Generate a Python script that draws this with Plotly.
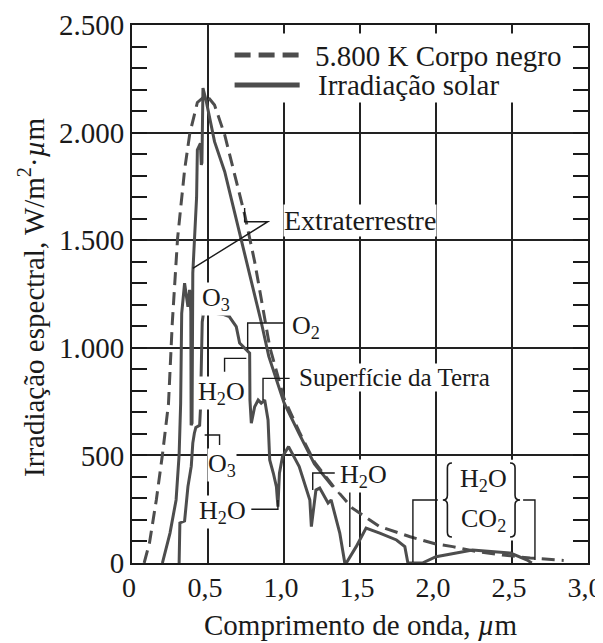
import plotly.graph_objects as go

# ---------------- data ----------------
# 5.800 K black body (dashed)
wl_bb = [0.08, 0.115, 0.16, 0.20, 0.24, 0.265, 0.30, 0.346, 0.38, 0.43, 0.489,
         0.543, 0.61, 0.686, 0.741, 0.807, 0.86, 0.906, 1.0, 1.1, 1.2, 1.32,
         1.45, 1.63, 1.83, 2.0, 2.11, 2.27, 2.44, 2.62, 2.84]
irr_bb = [0, 93, 293, 502, 740, 1115, 1510, 1826, 1995, 2140, 2175,
          2128, 1989, 1780, 1620, 1400, 1185, 1005, 765, 610, 470, 360,
          255, 169, 122, 88, 76, 53, 37, 23, 12]

# Extraterrestrial solar irradiation (solid)
wl_ext = [0.20, 0.25, 0.29, 0.31, 0.32, 0.325, 0.327, 0.346, 0.368, 0.379, 0.387,
          0.389, 0.395, 0.40, 0.425, 0.43, 0.45, 0.456, 0.46, 0.465, 0.467,
          0.489, 0.543, 0.61, 0.70, 0.75, 0.80, 0.85, 0.90, 0.95, 1.0, 1.1,
          1.2, 1.32]
irr_ext = [0, 139, 293, 502, 740, 1000, 1160, 1300, 1190, 1269, 1168,
           640, 650, 1347, 1700, 1920, 1950, 1850, 1860, 2115, 2207,
           2144, 1958, 1818, 1560, 1420, 1270, 1120, 960, 850, 745, 600,
           460, 355]

# Solar irradiation at the Earth's surface (solid)
wl_sfc = [0.31, 0.315, 0.346, 0.368, 0.39, 0.40, 0.41, 0.42, 0.445, 0.45, 0.462,
          0.47, 0.50, 0.543, 0.60, 0.64, 0.686, 0.708, 0.75, 0.774, 0.776,
          0.785, 0.807, 0.83, 0.85, 0.873, 0.895, 0.906, 0.93, 0.95, 0.96,
          0.97, 0.99, 1.03, 1.10, 1.17, 1.18, 1.21, 1.235, 1.29, 1.31, 1.367,
          1.40, 1.41, 1.475, 1.54, 1.63, 1.74, 1.795, 1.815, 1.91, 2.0, 2.24,
          2.49, 2.6, 2.63]
irr_sfc = [0, 186, 195, 355, 450, 557, 602, 630, 640, 710, 1120,
           1160, 1165, 1162, 1155, 1145, 1098, 1022, 990, 975, 757,
           650, 726, 757, 743, 757, 665, 479, 417, 355, 262,
           417, 494, 541, 448, 293, 169, 339, 348, 279, 293, 139,
           0, 0, 76, 162, 139, 107, 76, 0, 0, 29, 60,
           46, 14, 0]

x_ticks = [0, 0.5, 1.0, 1.5, 2.0, 2.5, 3.0]
x_ticklabels = ["0", "0,5", "1,0", "1,5", "2,0", "2,5", "3,0"]
y_ticks = [0, 500, 1000, 1500, 2000, 2500]
y_ticklabels = ["0", "500", "1.000", "1.500", "2.000", "2.500"]

legend_labels = ["5.800 K Corpo negro", "Irradiação solar"]
x_title = "Comprimento de onda, <i>µ</i>m"
y_title = "Irradiação espectral, W/m<sup>2</sup>·<i>µ</i>m"

# text labels in the plot: (text, x, y, size)
labels = [
    ("Extraterrestre", 1.50, 1590, 28),
    ("O<sub>3</sub>", 0.55, 1225, 26),
    ("O<sub>2</sub>", 1.145, 1095, 26),
    ("H<sub>2</sub>O", 0.59, 790, 26),
    ("Superfície da Terra", 1.73, 860, 25),
    ("O<sub>3</sub>", 0.59, 455, 26),
    ("H<sub>2</sub>O", 0.597, 235, 26),
    ("H<sub>2</sub>O", 1.52, 405, 26),
    ("H<sub>2</sub>O", 2.31, 385, 26),
    ("CO<sub>2</sub>", 2.31, 200, 26),
]
# leader / bracket lines (x list, y list)
leaders = [
    ([0.741, 0.741, 0.894, 0.40], [1650, 1586, 1586, 1369]),
    ([0.761, 0.761, 1.005], [990, 1115, 1115]),
    ([0.609, 0.609, 0.752], [889, 951, 951]),
    ([0.862, 0.862, 1.037], [757, 858, 858]),
    ([0.478, 0.576, 0.576], [595, 595, 548]),
    ([0.785, 0.96, 0.96], [250, 250, 293]),
    ([1.189, 1.189, 1.334], [339, 418, 418]),
    ([1.433, 1.433], [353, 74]),
    ([1.848, 1.848, 2.012], [5, 293, 293]),
    ([2.573, 2.651, 2.651], [293, 293, 14]),
]

FONT = "Liberation Serif, Times New Roman, serif"
INK = "#1a1a1a"
CURVE = "#4d4d4d"

fig = go.Figure()
fig.add_trace(go.Scatter(x=wl_bb, y=irr_bb, mode="lines", name=legend_labels[0],
                         line=dict(color=CURVE, width=3, dash="13px,7px")))
fig.add_trace(go.Scatter(x=wl_ext, y=irr_ext, mode="lines", name=legend_labels[1],
                         line=dict(color=CURVE, width=3)))
fig.add_trace(go.Scatter(x=wl_sfc, y=irr_sfc, mode="lines", showlegend=False,
                         line=dict(color=CURVE, width=3)))
# empty trace to show the right-hand tick axis
fig.add_trace(go.Scatter(x=[None], y=[None], yaxis="y2", showlegend=False,
                         hoverinfo="skip"))

shapes = []
# white areas behind legend and the {H2O CO2} label
shapes.append(dict(type="rect", xref="x", yref="y", x0=0.63, x1=2.96, y0=2140, y1=2460,
                   fillcolor="white", line=dict(width=0), layer="between"))
shapes.append(dict(type="rect", xref="x", yref="y", x0=2.03, x1=2.57, y0=105, y1=480,
                   fillcolor="white", line=dict(width=0), layer="between"))
# legend sample lines
shapes.append(dict(type="line", xref="x", yref="y", x0=0.675, x1=1.103, y0=2361, y1=2361,
                   line=dict(color=CURVE, width=5, dash="16px,8px")))
shapes.append(dict(type="line", xref="x", yref="y", x0=0.675, x1=1.103, y0=2221, y1=2221,
                   line=dict(color=CURVE, width=5)))
for xs, ys in leaders:
    path = "M " + " L ".join(f"{a},{b}" for a, b in zip(xs, ys))
    shapes.append(dict(type="path", xref="x", yref="y", path=path,
                       line=dict(color=INK, width=1.4)))
# curly braces
def brace(x_arm, x_stem, x_tip, ytop, ymid, ybot, d=22):
    return (f"M {x_arm},{ytop} Q {x_stem},{ytop} {x_stem},{ytop-d} L {x_stem},{ymid+d} "
            f"Q {x_stem},{ymid} {x_tip},{ymid} Q {x_stem},{ymid} {x_stem},{ymid-d} "
            f"L {x_stem},{ybot+d} Q {x_stem},{ybot} {x_arm},{ybot}")
shapes.append(dict(type="path", xref="x", yref="y", path=brace(2.105, 2.075, 2.045, 465, 293, 121),
                   line=dict(color=INK, width=1.6)))
shapes.append(dict(type="path", xref="x", yref="y", path=brace(2.487, 2.52, 2.553, 465, 293, 121),
                   line=dict(color=INK, width=1.6)))

annotations = []
for text, x, y, size in labels:
    annotations.append(dict(x=x, y=y, xref="x", yref="y", text=text, showarrow=False,
                            font=dict(family=FONT, size=size, color=INK),
                            bgcolor="white", borderpad=0))
annotations.append(dict(x=1.189, y=2356, xref="x", yref="y", xanchor="left",
                        text=legend_labels[0], showarrow=False,
                        font=dict(family=FONT, size=29, color=INK)))
annotations.append(dict(x=1.209, y=2221, xref="x", yref="y", xanchor="left",
                        text=legend_labels[1], showarrow=False,
                        font=dict(family=FONT, size=29, color=INK)))
annotations.append(dict(x=0.503, y=-0.115, xref="paper", yref="paper", text=x_title,
                        xanchor="center", yanchor="middle",
                        showarrow=False, font=dict(family=FONT, size=29, color=INK)))
annotations.append(dict(x=-0.22, y=0.494, xref="paper", yref="paper", text=y_title,
                        xanchor="center", yanchor="middle",
                        textangle=-90, showarrow=False,
                        font=dict(family=FONT, size=29, color=INK)))

minor = dict(dtick=100, ticks="inside", ticklen=15, tickwidth=2, tickcolor=INK, showgrid=False)

# the page body adds an 8 px offset; the figure is sized and placed to compensate
fig.update_layout(
    width=595, height=635,
    margin=dict(l=124, r=15, t=17, b=80, autoexpand=False),
    paper_bgcolor="white", plot_bgcolor="white",
    showlegend=False,
    font=dict(family=FONT, size=29, color=INK),
    xaxis=dict(range=[0, 3], tickvals=x_ticks, ticktext=x_ticklabels, ticks="", ticklen=0,
               showgrid=True, gridcolor="#222222", gridwidth=1.5, zeroline=False,
               showline=True, linecolor=INK, linewidth=2, mirror=True, automargin=False,
               ticklabelstandoff=-2, ticklabelshift=-3, ticklabeloverflow="allow",
               tickfont=dict(family=FONT, size=28, color=INK)),
    yaxis=dict(range=[0, 2500], tickvals=y_ticks, ticktext=y_ticklabels, ticks="inside",
               ticklen=15, tickwidth=2, tickcolor=INK, minor=minor, automargin=False,
               showgrid=True, gridcolor="#222222", gridwidth=1.5, zeroline=False,
               showline=True, linecolor=INK, linewidth=2, mirror=True,
               ticklabelstandoff=0, ticklabeloverflow="allow",
               tickfont=dict(family=FONT, size=29, color=INK)),
    yaxis2=dict(range=[0, 2500], overlaying="y", side="right", showticklabels=False,
                tickvals=y_ticks, ticks="inside", ticklen=15, tickwidth=2, tickcolor=INK,
                minor=minor, showgrid=False, zeroline=False, showline=False,
                automargin=False),
    shapes=shapes,
    annotations=annotations,
)

fig.write_html("out.html")
